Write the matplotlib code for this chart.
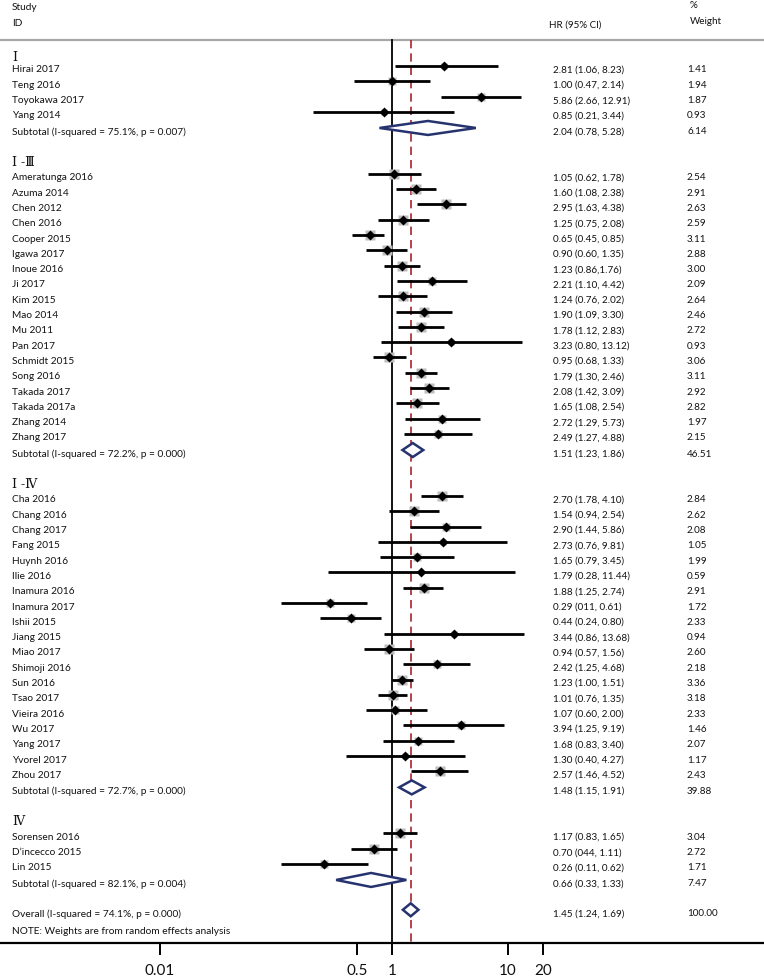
import numpy as np
import matplotlib
matplotlib.use("Agg")
import matplotlib.pyplot as plt
from matplotlib.transforms import blended_transform_factory
from matplotlib.patches import Polygon

# ---------------- data ----------------
sec1_names = ["Hirai 2017", "Teng 2016", "Toyokawa 2017", "Yang 2014"]
sec1_hr = [2.81, 1.00, 5.86, 0.85]
sec1_lo = [1.06, 0.47, 2.66, 0.21]
sec1_hi = [8.23, 2.14, 12.91, 3.44]
sec1_w = [1.41, 1.94, 1.87, 0.93]
sec1_txt = ["2.81 (1.06, 8.23)", "1.00 (0.47, 2.14)", "5.86 (2.66, 12.91)", "0.85 (0.21, 3.44)"]
sec1_sub = ("Subtotal (I-squared = 75.1%, p = 0.007)", 2.04, 0.78, 5.28, "2.04 (0.78, 5.28)", "6.14")

sec2_names = ["Ameratunga 2016", "Azuma 2014", "Chen 2012", "Chen 2016", "Cooper 2015",
              "Igawa 2017", "Inoue 2016", "Ji 2017", "Kim 2015", "Mao 2014", "Mu 2011",
              "Pan 2017", "Schmidt 2015", "Song 2016", "Takada 2017", "Takada 2017a",
              "Zhang 2014", "Zhang 2017"]
sec2_hr = [1.05, 1.60, 2.95, 1.25, 0.65, 0.90, 1.23, 2.21, 1.24, 1.90, 1.78, 3.23, 0.95,
           1.79, 2.08, 1.65, 2.72, 2.49]
sec2_lo = [0.62, 1.08, 1.63, 0.75, 0.45, 0.60, 0.86, 1.10, 0.76, 1.09, 1.12, 0.80, 0.68,
           1.30, 1.42, 1.08, 1.29, 1.27]
sec2_hi = [1.78, 2.38, 4.38, 2.08, 0.85, 1.35, 1.76, 4.42, 2.02, 3.30, 2.83, 13.12, 1.33,
           2.46, 3.09, 2.54, 5.73, 4.88]
sec2_w = [2.54, 2.91, 2.63, 2.59, 3.11, 2.88, 3.00, 2.09, 2.64, 2.46, 2.72, 0.93, 3.06,
          3.11, 2.92, 2.82, 1.97, 2.15]
sec2_txt = ["1.05 (0.62, 1.78)", "1.60 (1.08, 2.38)", "2.95 (1.63, 4.38)", "1.25 (0.75, 2.08)",
            "0.65 (0.45, 0.85)", "0.90 (0.60, 1.35)", "1.23 (0.86,1.76)", "2.21 (1.10, 4.42)",
            "1.24 (0.76, 2.02)", "1.90 (1.09, 3.30)", "1.78 (1.12, 2.83)", "3.23 (0.80, 13.12)",
            "0.95 (0.68, 1.33)", "1.79 (1.30, 2.46)", "2.08 (1.42, 3.09)", "1.65 (1.08, 2.54)",
            "2.72 (1.29, 5.73)", "2.49 (1.27, 4.88)"]
sec2_sub = ("Subtotal (I-squared = 72.2%, p = 0.000)", 1.51, 1.23, 1.86, "1.51 (1.23, 1.86)", "46.51")

sec3_names = ["Cha 2016", "Chang 2016", "Chang 2017", "Fang 2015", "Huynh 2016", "Ilie 2016",
              "Inamura 2016", "Inamura 2017", "Ishii 2015", "Jiang 2015", "Miao 2017",
              "Shimoji 2016", "Sun 2016", "Tsao 2017", "Vieira 2016", "Wu 2017", "Yang 2017",
              "Yvorel 2017", "Zhou 2017"]
sec3_hr = [2.70, 1.54, 2.90, 2.73, 1.65, 1.79, 1.88, 0.29, 0.44, 3.44, 0.94, 2.42, 1.23,
           1.01, 1.07, 3.94, 1.68, 1.30, 2.57]
sec3_lo = [1.78, 0.94, 1.44, 0.76, 0.79, 0.28, 1.25, 0.11, 0.24, 0.86, 0.57, 1.25, 1.00,
           0.76, 0.60, 1.25, 0.83, 0.40, 1.46]
sec3_hi = [4.10, 2.54, 5.86, 9.81, 3.45, 11.44, 2.74, 0.61, 0.80, 13.68, 1.56, 4.68, 1.51,
           1.35, 2.00, 9.19, 3.40, 4.27, 4.52]
sec3_w = [2.84, 2.62, 2.08, 1.05, 1.99, 0.59, 2.91, 1.72, 2.33, 0.94, 2.60, 2.18, 3.36,
          3.18, 2.33, 1.46, 2.07, 1.17, 2.43]
sec3_txt = ["2.70 (1.78, 4.10)", "1.54 (0.94, 2.54)", "2.90 (1.44, 5.86)", "2.73 (0.76, 9.81)",
            "1.65 (0.79, 3.45)", "1.79 (0.28, 11.44)", "1.88 (1.25, 2.74)", "0.29 (011, 0.61)",
            "0.44 (0.24, 0.80)", "3.44 (0.86, 13.68)", "0.94 (0.57, 1.56)", "2.42 (1.25, 4.68)",
            "1.23 (1.00, 1.51)", "1.01 (0.76, 1.35)", "1.07 (0.60, 2.00)", "3.94 (1.25, 9.19)",
            "1.68 (0.83, 3.40)", "1.30 (0.40, 4.27)", "2.57 (1.46, 4.52)"]
sec3_sub = ("Subtotal (I-squared = 72.7%, p = 0.000)", 1.48, 1.15, 1.91, "1.48 (1.15, 1.91)", "39.88")

sec4_names = ["Sorensen 2016", "D\u2019incecco 2015", "Lin 2015"]
sec4_hr = [1.17, 0.70, 0.26]
sec4_lo = [0.83, 0.44, 0.11]
sec4_hi = [1.65, 1.11, 0.62]
sec4_w = [3.04, 2.72, 1.71]
sec4_txt = ["1.17 (0.83, 1.65)", "0.70 (044, 1.11)", "0.26 (0.11, 0.62)"]
sec4_sub = ("Subtotal (I-squared = 82.1%, p = 0.004)", 0.66, 0.33, 1.33, "0.66 (0.33, 1.33)", "7.47")

overall = ("Overall (I-squared = 74.1%, p = 0.000)", 1.45, 1.24, 1.69, "1.45 (1.24, 1.69)", "100.00")
note = "NOTE: Weights are from random effects analysis"

section_labels = ["\u2160", "\u2160 -\u2162", "\u2160 -\u2163", "\u2163"]
tick_vals = [0.01, 0.5, 1, 10, 20]
tick_labels = ["0.01", "0.5", "1", "10", "20"]

sections = [
    (sec1_names, sec1_hr, sec1_lo, sec1_hi, sec1_w, sec1_txt, sec1_sub),
    (sec2_names, sec2_hr, sec2_lo, sec2_hi, sec2_w, sec2_txt, sec2_sub),
    (sec3_names, sec3_hr, sec3_lo, sec3_hi, sec3_w, sec3_txt, sec3_sub),
    (sec4_names, sec4_hr, sec4_lo, sec4_hi, sec4_w, sec4_txt, sec4_sub),
]

# ---------------- figure ----------------
W, H = 764, 978
fig = plt.figure(figsize=(W / 100, H / 100), dpi=100)
ax = fig.add_axes([0, 0, 1, 1])
ax.set_xscale("log")
x0px, dec = 392.0, 116.0
ax.set_xlim(10 ** (-x0px / dec), 10 ** ((W - x0px) / dec))
ax.set_ylim(H, 0)
ax.axis("off")

FONT = "Lato"
renderer = fig.canvas.get_renderer()


def fit_size(s, target_px, family=FONT):
    t = fig.text(0, 0, s, fontsize=10, family=family)
    w = t.get_window_extent(renderer).width
    t.remove()
    return 10 * target_px / w


FS_NAME = fit_size("Subtotal (I-squared = 75.1%, p = 0.007)", 173)
FS_NUM = fit_size("2.81 (1.06, 8.23)", 71)
FS_TICK = fit_size("0.01", 30)

tr = blended_transform_factory(ax.transAxes, ax.transData)
ROMAN = ["DejaVu Serif", "Noto Sans CJK SC"]
TXT_OFF = 3
X_NAME, X_HR, X_W = 12 / W, 553 / W, 687 / W
NAVY = "#27336e"
RED = "#a4262c"


def txt(xf, y, s, fs=None, **kw):
    kw.setdefault("family", FONT)
    ax.text(xf, y, s, transform=tr, va="center", ha="left", color="#111111",
            fontsize=fs if fs else FS_NAME, **kw)


def diamond(y, est, lo, hi, half=7):
    poly = Polygon([[lo, y], [est, y - half], [hi, y], [est, y + half]], closed=True,
                   facecolor="white", edgecolor=NAVY, linewidth=1.8, zorder=4)
    ax.add_patch(poly)


# headers
txt(X_NAME, 7, "Study")
txt(X_NAME, 24, "ID")
txt(549 / W, 25, "HR (95% CI)", fs=FS_NUM)
txt(690 / W, 6, "%", fs=FS_NUM)
txt(690 / W, 22, "Weight", fs=FS_NUM)
ax.plot([0, 1], [41, 41], transform=tr, color="#a8a8a8", lw=1.6, zorder=1)

STEP = 15.3
y = 67.0
first = True
for label, (names, hr, lo, hi, w, ttxt, sub) in zip(section_labels, sections):
    if not first:
        y += 3 * STEP
    label_gap = 0.8 * STEP if first else STEP
    first = False
    txt(X_NAME, y - label_gap + TXT_OFF, label, fs=9, family=ROMAN)
    for i in range(len(names)):
        yy = y + i * STEP
        ax.plot([lo[i], hi[i]], [yy, yy], color="black", lw=2.0, solid_capstyle="butt", zorder=3)
        ax.plot(hr[i], yy, marker="s", ms=7.4 * np.sqrt(w[i] / 3.11), color="#bdbdbd",
                mec="none", zorder=2.5)
        ax.plot(hr[i], yy, marker="D", ms=4.9, color="black", mec="none", zorder=4)
        txt(X_NAME, yy + TXT_OFF, names[i])
        txt(X_HR, yy + TXT_OFF, ttxt[i], fs=FS_NUM)
        txt(X_W, yy + TXT_OFF, f"{w[i]:.2f}", fs=FS_NUM)
    y = y + (len(names) - 1) * STEP + 1.05 * STEP
    diamond(y, sub[1], sub[2], sub[3])
    txt(X_NAME, y + TXT_OFF, sub[0])
    txt(X_HR, y + TXT_OFF, sub[4], fs=FS_NUM)
    txt(X_W, y + TXT_OFF, sub[5], fs=FS_NUM)

y_over = y + 1.95 * STEP
diamond(y_over, overall[1], overall[2], overall[3], half=6.5)
txt(X_NAME, y_over + TXT_OFF, overall[0])
txt(X_HR, y_over + TXT_OFF, overall[4], fs=FS_NUM)
txt(X_W, y_over + TXT_OFF, overall[5], fs=FS_NUM)
txt(X_NAME, y_over + 1.15 * STEP + TXT_OFF, note)

# reference lines
y_axis = 944
ax.plot([1, 1], [41, y_axis], color="black", lw=1.3, zorder=1)
ax.plot([overall[1], overall[1]], [41, y_axis], color=RED, lw=1.2, ls=(0, (5, 3)), zorder=1)

# bottom axis
ax.plot([0, 1], [y_axis, y_axis], transform=tr, color="black", lw=1.6, zorder=1)
for v, lab in zip(tick_vals, tick_labels):
    ax.plot([v, v], [y_axis, y_axis + 11], color="black", lw=1.4)
    ax.text(v, y_axis + 27, lab, ha="center", va="center", fontsize=FS_TICK, family=FONT,
            color="#111111")

fig.savefig("out.png", dpi=100)
